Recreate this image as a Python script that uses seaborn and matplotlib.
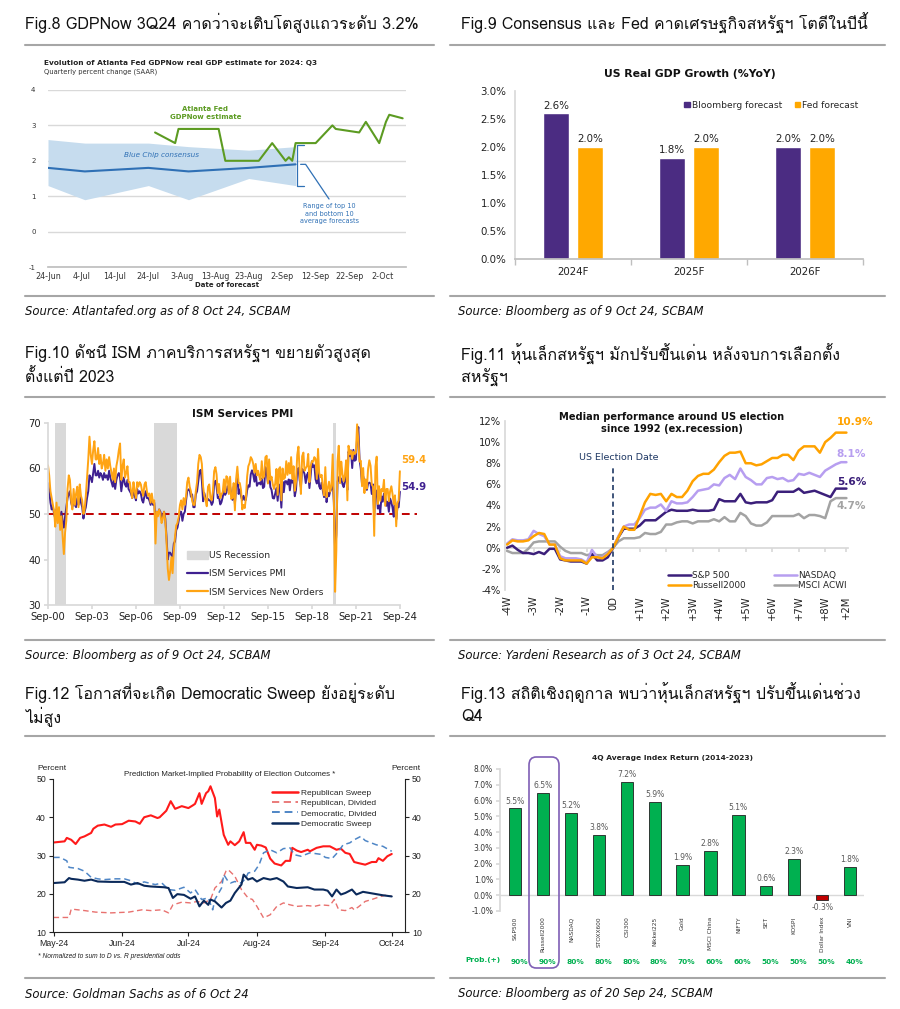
import numpy as np
import pandas as pd
import matplotlib
matplotlib.use('Agg')
import matplotlib.pyplot as plt
import matplotlib.dates as mdates
import matplotlib.patches as mpatches
from matplotlib.lines import Line2D
from matplotlib.ticker import FuncFormatter, MultipleLocator
from matplotlib.transforms import blended_transform_factory
from matplotlib import font_manager
import seaborn as sns

# ── Fig.8 GDPNow data ─────────────────────────────────────────────
bc_dates = ['2024-06-24', '2024-07-05', '2024-07-24', '2024-08-05', '2024-08-23', '2024-09-06']
bc_mid = [1.8, 1.7, 1.8, 1.7, 1.8, 1.9]
bc_high = [2.6, 2.5, 2.5, 2.4, 2.3, 2.4]
bc_low = [1.3, 0.9, 1.3, 0.9, 1.5, 1.3]
gdp_dates = ['07-26', '08-01', '08-02', '08-14', '08-16', '08-26', '08-30', '09-03', '09-04',
             '09-05', '09-06', '09-12', '09-17', '09-18', '09-25', '09-27', '10-01', '10-03',
             '10-04', '10-08']
gdp_vals = [2.8, 2.5, 2.9, 2.9, 2.0, 2.0, 2.5, 2.0, 2.1, 2.0, 2.5, 2.5, 3.0, 2.9, 2.8, 3.1,
            2.5, 3.1, 3.3, 3.2]

# ── Fig.9 GDP forecasts ───────────────────────────────────────────
gdp_years = ['2024F', '2025F', '2026F']
bloomberg_fc = [2.6, 1.8, 2.0]
fed_fc = [2.0, 2.0, 2.0]

# ── Fig.10 ISM services (monthly, Sep-2000 .. Sep-2024) ───────────
ism_pmi = [
    56.8, 55.2, 52.5, 51.0,
    51.5, 50.0, 49.0, 51.0, 49.2, 50.5, 49.0, 50.5, 48.2, 47.0, 49.5, 51.5,
    53.5, 54.5, 55.0, 52.5, 51.5, 53.0, 52.0, 51.5, 53.5, 52.0, 54.0, 52.5,
    51.5, 49.0, 50.5, 51.5, 53.5, 55.0, 58.5, 58.0, 57.0, 59.0, 61.0, 58.5,
    58.5, 59.5, 58.0, 59.0, 58.5, 57.5, 59.0, 58.0, 58.5, 57.5, 59.5, 58.0,
    57.0, 56.0, 57.5, 55.5, 57.5, 58.5, 59.0, 58.0, 55.0, 57.0, 58.0, 56.5,
    56.0, 57.5, 55.5, 55.0, 54.5, 53.5, 55.5, 54.0, 53.0, 55.5, 54.5, 55.0,
    54.5, 53.0, 52.5, 54.0, 55.0, 53.5, 53.5, 53.0, 52.0, 53.5, 52.0, 52.5,
    48.0, 50.5, 50.0, 51.0, 50.5, 49.0, 49.5, 50.5, 49.0, 45.0, 40.0, 41.5,
    41.5, 41.0, 40.5, 43.5, 44.0, 46.5, 47.0, 48.5, 50.5, 50.5, 48.5, 50.0,
    50.5, 53.0, 55.0, 55.4, 55.4, 53.8, 54.3, 51.5, 51.5, 54.3, 55.0, 57.1,
    59.4, 59.7, 57.3, 52.8, 54.6, 53.3, 52.7, 53.3, 53.0, 52.9, 52.0, 52.6,
    56.8, 57.3, 56.0, 53.5, 53.7, 52.1, 52.6, 53.7, 55.1, 54.2, 54.7, 56.1,
    55.2, 56.0, 54.4, 53.1, 56.0, 52.2, 56.0, 58.6, 54.4, 55.4, 53.9, 53.0,
    54.0, 53.1, 53.1, 55.2, 56.3, 56.0, 58.7, 59.6, 58.6, 57.1, 59.3, 56.2,
    56.7, 56.9, 56.5, 57.8, 55.7, 56.0, 60.3, 59.0, 56.9, 59.1, 55.9, 55.3,
    53.5, 53.4, 54.5, 55.7, 52.9, 56.5, 55.5, 51.4, 57.1, 54.8, 57.2, 57.2,
    56.5, 57.6, 55.2, 57.5, 56.9, 57.4, 53.9, 55.3, 59.8, 60.1, 57.4, 55.9,
    59.9, 59.5, 58.8, 56.8, 58.6, 59.1, 55.7, 58.5, 61.6, 60.3, 60.7, 57.6,
    56.7, 59.7, 56.1, 55.5, 56.9, 55.1, 53.7, 56.4, 52.6, 54.7, 53.9, 55.0,
    55.5, 57.3, 52.5, 41.8, 45.4, 57.1, 58.1, 56.9, 57.8, 56.6, 55.9, 57.2,
    58.7, 55.3, 63.7, 62.7, 64.0, 60.1, 64.1, 61.7, 61.9, 66.7, 69.1, 62.0,
    59.9, 56.5, 58.3, 57.1, 55.9, 55.3, 56.7, 56.9, 56.7, 54.4, 56.5, 49.6,
    55.2, 55.1, 51.2, 51.9, 50.3, 53.9, 52.7, 54.5, 53.6, 51.8, 52.7, 50.5,
    53.4, 52.6, 51.4, 49.4, 53.8, 48.8, 51.4, 51.5, 54.9,
]
ism_new_orders = [
    60.7, 58.5, 55.0, 53.5,
    52.0, 50.5, 47.2, 52.5, 48.0, 51.5, 46.5, 49.5, 45.0, 41.2, 46.0, 48.5,
    55.5, 58.5, 57.5, 53.0, 51.0, 55.5, 52.0, 54.5, 56.0, 51.5, 56.5, 54.0,
    53.0, 50.0, 51.0, 54.0, 58.0, 62.0, 67.0, 63.0, 61.0, 64.0, 66.0, 62.0,
    62.0, 64.5, 61.0, 63.0, 60.0, 61.0, 63.0, 59.5, 62.0, 60.0, 62.5, 60.5,
    59.0, 57.5, 60.0, 57.0, 60.5, 62.0, 64.0, 65.5, 57.5, 60.5, 62.0, 58.0,
    59.0, 60.5, 57.0, 57.0, 55.0, 53.5, 57.0, 55.0, 53.5, 57.0, 56.0, 57.0,
    56.5, 55.0, 54.0, 56.5, 57.0, 55.0, 54.0, 54.5, 52.5, 54.5, 52.5, 53.0,
    43.5, 50.5, 49.5, 51.0, 50.0, 48.0, 49.0, 50.5, 48.5, 44.0, 38.0, 35.5,
    37.5, 40.5, 37.0, 42.0, 45.0, 47.5, 48.0, 49.5, 52.0, 53.0, 51.0, 53.5,
    52.0, 54.0, 57.0, 58.0, 56.0, 55.0, 53.0, 52.0, 52.0, 55.0, 57.0, 61.0,
    63.0, 62.5, 61.0, 56.0, 54.0, 53.0, 51.7, 56.0, 56.5, 53.5, 53.0, 55.0,
    59.4, 60.3, 58.7, 54.6, 56.6, 53.5, 54.3, 54.8, 57.6, 54.8, 58.3, 57.9,
    54.4, 58.2, 53.3, 53.6, 56.8, 50.8, 57.7, 60.4, 56.8, 56.8, 55.2, 51.0,
    52.0, 51.3, 53.4, 58.2, 60.5, 61.2, 62.5, 62.0, 61.0, 59.1, 61.0, 58.5,
    59.5, 58.2, 57.4, 61.6, 57.9, 58.3, 62.5, 62.8, 56.7, 62.0, 57.5, 58.2,
    56.5, 55.5, 56.7, 59.9, 54.2, 59.9, 60.3, 53.0, 60.0, 57.7, 58.0, 61.6,
    58.6, 61.2, 58.9, 62.5, 57.7, 60.5, 55.1, 57.1, 63.0, 64.8, 58.9, 54.4,
    62.7, 63.5, 59.5, 60.1, 60.5, 63.2, 57.0, 60.5, 61.6, 61.5, 62.5, 62.1,
    57.7, 64.3, 59.0, 58.1, 58.6, 55.8, 54.1, 60.3, 53.7, 55.6, 57.1, 54.9,
    56.2, 63.1, 52.9, 32.9, 41.9, 61.6, 65.0, 56.8, 61.5, 58.8, 57.2, 58.6,
    61.8, 53.0, 65.0, 63.2, 63.9, 62.1, 63.7, 63.2, 63.5, 69.7, 66.0, 61.5,
    61.7, 56.1, 60.1, 54.6, 57.6, 55.6, 59.9, 61.8, 60.6, 56.5, 56.0, 45.2,
    60.4, 62.6, 52.2, 56.1, 52.9, 55.5, 55.0, 57.5, 51.8, 55.5, 55.5, 52.8,
    55.0, 56.1, 54.4, 52.2, 54.1, 47.3, 52.4, 53.0, 59.4,
]
recessions = [('2001-03-01', '2001-11-30'), ('2007-12-01', '2009-06-30'), ('2020-02-01', '2020-04-30')]

# ── Fig.11 median performance around US election (trading days) ──
election_days = list(range(-20, 45))
sp500 = [0.0, 0.2, -0.2, -0.5, -0.5, -0.6, -0.4, -0.6, -0.1, -0.1, -1.1, -1.2, -1.3, -1.3,
         -1.3, -1.5, -0.6, -1.2, -1.2, -0.9, 0.0,
         1.0, 1.8, 1.8, 1.8, 2.1, 2.6, 2.6, 2.6, 3.0, 3.4, 3.6, 3.5, 3.5, 3.5, 3.6, 3.5,
         3.5, 3.5, 3.6, 4.6, 4.4, 4.4, 4.4, 5.1, 4.3, 4.2, 4.3, 4.3, 4.3, 4.5, 5.3, 5.3,
         5.3, 5.3, 5.6, 5.2, 5.3, 5.4, 5.2, 5.0, 4.8, 5.6, 5.6, 5.6]
nasdaq = [0.4, 0.8, 0.7, 0.7, 0.8, 1.6, 1.3, 1.1, 0.3, 0.3, -0.8, -1.0, -1.0, -1.0, -1.1,
          -1.4, -0.2, -0.9, -0.9, -0.5, 0.0,
          1.1, 2.0, 2.2, 2.2, 2.8, 3.6, 3.8, 3.8, 4.1, 3.5, 4.4, 4.2, 4.2, 4.3, 4.8, 5.4,
          5.5, 5.6, 6.0, 5.9, 6.6, 6.9, 6.5, 7.5, 6.7, 6.4, 6.0, 6.0, 6.6, 6.7, 6.5, 6.6,
          6.3, 6.4, 7.0, 6.9, 7.1, 6.9, 6.7, 7.3, 7.6, 7.9, 8.1, 8.1]
russell2000 = [0.3, 0.7, 0.6, 0.6, 0.7, 1.1, 1.4, 1.3, 0.3, 0.3, -1.0, -1.2, -1.2, -1.2,
               -1.2, -1.5, -0.9, -0.9, -1.0, -0.6, 0.0,
               1.0, 2.0, 1.7, 1.7, 3.0, 4.3, 5.1, 5.0, 5.1, 4.4, 5.1, 4.8, 4.8, 5.4, 6.3,
               6.8, 7.0, 7.0, 7.4, 8.1, 8.7, 9.0, 9.0, 9.1, 8.0, 8.0, 7.8, 7.9, 8.2, 8.5,
               8.5, 8.8, 8.8, 8.3, 9.2, 9.6, 9.6, 9.6, 9.0, 10.0, 10.4, 10.9, 10.9, 10.9]
msci_acwi = [-0.3, -0.5, -0.5, -0.5, -0.1, 0.5, 0.6, 0.6, 0.6, 0.6, 0.1, -0.3, -0.5, -0.5,
             -0.5, -0.7, -0.6, -0.7, -0.7, -0.4, 0.0,
             0.6, 0.9, 0.9, 0.9, 1.0, 1.4, 1.3, 1.3, 1.5, 2.2, 2.2, 2.4, 2.5, 2.5, 2.3, 2.5,
             2.5, 2.5, 2.7, 2.5, 2.9, 2.5, 2.5, 3.3, 3.0, 2.3, 2.1, 2.1, 2.4, 3.0, 3.0, 3.0,
             3.0, 3.0, 3.2, 2.8, 3.1, 3.1, 3.0, 2.8, 4.4, 4.7, 4.7, 4.7]
week_ticks = [-20, -15, -10, -5, 0, 5, 10, 15, 20, 25, 30, 35, 40, 44]
week_labels = ['-4W', '-3W', '-2W', '-1W', '0D', '+1W', '+2W', '+3W', '+4W', '+5W', '+6W',
               '+7W', '+8W', '+2M']

# ── Fig.12 prediction market probabilities (2024) ─────────────────
rep_sweep_dates = ['05-01', '05-06', '05-07', '05-09', '05-11', '05-13', '05-15', '05-18',
                   '05-19', '05-21', '05-24', '05-27', '05-29', '06-01', '06-04', '06-07',
                   '06-09', '06-11', '06-14', '06-17', '06-18', '06-21', '06-23', '06-25',
                   '06-28', '07-01', '07-03', '07-04', '07-06', '07-07', '07-09', '07-10',
                   '07-11', '07-13', '07-14', '07-15', '07-17', '07-19', '07-20', '07-22',
                   '07-24', '07-26', '07-27', '07-29', '07-31', '08-01', '08-03', '08-05',
                   '08-07', '08-09', '08-12', '08-14', '08-16', '08-17', '08-19', '08-21',
                   '08-24', '08-25', '08-28', '08-31', '09-03', '09-06', '09-08', '09-10',
                   '09-12', '09-14', '09-16', '09-19', '09-22', '09-24', '09-25', '09-27',
                   '09-29', '10-01']
rep_sweep = [33.4, 33.7, 34.6, 34.1, 33.0, 34.6, 35.0, 35.9, 37.0, 37.8, 38.1, 37.5, 38.1,
             38.2, 39.1, 38.9, 38.3, 40.0, 40.5, 39.8, 40.0, 41.7, 44.2, 42.2, 42.9, 42.4,
             43.1, 43.5, 46.3, 43.5, 46.3, 46.8, 48.1, 45.0, 40.2, 42.0, 35.4, 32.8, 33.7,
             32.7, 33.7, 36.1, 33.3, 33.3, 31.5, 32.8, 32.6, 32.1, 29.2, 27.9, 27.4, 28.6,
             28.6, 32.0, 31.3, 30.9, 31.5, 31.1, 32.0, 32.4, 32.4, 31.5, 31.8, 30.7, 30.4,
             28.3, 28.0, 27.6, 28.3, 28.3, 29.3, 28.6, 29.8, 30.4]
rep_div_dates = ['05-01', '05-08', '05-09', '05-12', '05-15', '05-20', '05-27', '06-04',
                 '06-10', '06-14', '06-19', '06-22', '06-24', '06-28', '07-02', '07-05',
                 '07-08', '07-11', '07-13', '07-16', '07-18', '07-19', '07-22', '07-25',
                 '07-28', '07-30', '08-01', '08-04', '08-07', '08-10', '08-13', '08-16',
                 '08-19', '08-24', '08-27', '08-30', '09-03', '09-05', '09-07', '09-10',
                 '09-13', '09-14', '09-16', '09-19', '09-22', '09-25', '09-28', '10-01']
rep_div = [13.8, 13.8, 16.0, 15.8, 15.6, 15.2, 15.0, 15.2, 15.8, 15.6, 15.8, 15.0, 17.1,
           17.8, 17.6, 18.0, 17.6, 18.5, 21.5, 23.2, 25.9, 26.3, 24.6, 21.1, 18.9, 18.5,
           16.7, 13.7, 14.5, 16.7, 17.6, 17.1, 16.7, 16.9, 16.7, 17.1, 16.9, 18.5, 15.8,
           15.6, 16.4, 15.8, 16.6, 18.0, 18.5, 19.1, 19.6, 19.3]
dem_div_dates = ['05-01', '05-04', '05-07', '05-08', '05-12', '05-15', '05-18', '05-21',
                 '05-24', '05-29', '06-02', '06-05', '06-08', '06-11', '06-16', '06-19',
                 '06-22', '06-25', '06-29', '07-02', '07-04', '07-07', '07-10', '07-12',
                 '07-13', '07-16', '07-17', '07-19', '07-20', '07-22', '07-25', '07-27',
                 '07-28', '07-31', '08-02', '08-04', '08-07', '08-10', '08-13', '08-16',
                 '08-18', '08-21', '08-25', '08-30', '09-01', '09-04', '09-07', '09-09',
                 '09-12', '09-14', '09-17', '09-19', '09-24', '09-27', '10-01']
dem_div = [29.5, 29.5, 28.6, 26.9, 26.6, 25.9, 24.3, 23.9, 23.7, 23.9, 23.9, 23.4, 22.5,
           23.1, 22.4, 22.8, 21.1, 20.9, 21.7, 20.2, 21.1, 18.5, 18.9, 15.8, 18.5, 21.5,
           25.0, 23.2, 22.8, 23.2, 22.8, 24.1, 25.4, 25.9, 27.6, 30.7, 31.5, 30.7, 31.8,
           32.0, 30.2, 29.8, 30.7, 30.3, 29.5, 29.2, 31.1, 32.8, 33.3, 34.1, 35.0, 33.9,
           32.8, 32.4, 31.1]
dem_sweep_dates = ['05-01', '05-06', '05-08', '05-09', '05-12', '05-15', '05-18', '05-21',
                   '05-27', '06-02', '06-05', '06-08', '06-11', '06-14', '06-20', '06-22',
                   '06-24', '06-26', '06-29', '07-02', '07-04', '07-06', '07-08', '07-10',
                   '07-11', '07-13', '07-16', '07-18', '07-20', '07-22', '07-25', '07-26',
                   '07-28', '07-30', '08-01', '08-04', '08-07', '08-10', '08-13', '08-15',
                   '08-19', '08-24', '08-27', '08-31', '09-02', '09-04', '09-06', '09-08',
                   '09-10', '09-13', '09-15', '09-18', '09-21', '09-24', '09-27', '10-01']
dem_sweep = [22.8, 23.0, 24.1, 23.9, 23.7, 23.4, 23.7, 23.2, 23.1, 23.1, 22.4, 22.8, 22.1,
             21.9, 21.7, 21.5, 18.9, 19.9, 19.7, 18.7, 19.3, 16.7, 18.2, 17.1, 18.5, 18.0,
             16.4, 17.6, 18.2, 20.2, 22.4, 25.0, 23.7, 24.1, 23.2, 24.1, 23.7, 24.1, 23.2,
             21.9, 21.5, 21.7, 21.1, 21.1, 20.8, 19.3, 21.1, 19.8, 20.2, 21.1, 19.8, 20.5,
             20.2, 19.9, 19.6, 19.3]

# ── Fig.13 Q4 average index returns 2014-2023 ─────────────────────
idx_names = ['S&P500', 'Russell2000', 'NASDAQ', 'STOXX600', 'CSI300', 'Nikkei225', 'Gold',
             'MSCI China', 'NIFTY', 'SET', 'KOSPI', 'Dollar Index', 'VNI']
idx_returns = [5.5, 6.5, 5.2, 3.8, 7.2, 5.9, 1.9, 2.8, 5.1, 0.6, 2.3, -0.3, 1.8]
idx_prob = [90, 90, 80, 80, 80, 80, 70, 60, 60, 50, 50, 50, 40]


# ── Fonts ─────────────────────────────────────────────────────────
def find_thai_family():
    try:
        from fontTools.ttLib import TTFont
    except ImportError:
        return None
    for f in font_manager.fontManager.ttflist:
        try:
            tt = TTFont(f.fname, fontNumber=0, lazy=True)
            cmap = tt.getBestCmap() or {}
            if 0x0E01 in cmap and 0x0E32 in cmap:
                return f.name
        except Exception:
            continue
    return None


sns.set_theme(style='white')
plt.rcParams['font.family'] = ['DejaVu Sans']
plt.rcParams['axes.unicode_minus'] = False
thai = find_thai_family()
TITLE_FAMILY = [thai, 'DejaVu Sans'] if thai else ['DejaVu Sans']
print('[INFO] Thai font:', thai)

W, H = 900, 1009
fig = plt.figure(figsize=(9, 10.09), dpi=100)
fig.patch.set_facecolor('white')


def fx(x):
    return x / W


def fy(y):
    return 1 - y / H


def add_ax(x0, y0, x1, y1):
    return fig.add_axes([fx(x0), fy(y1), (x1 - x0) / W, (y1 - y0) / H])


def hline(x0, x1, y):
    fig.add_artist(Line2D([fx(x0), fx(x1)], [fy(y), fy(y)], color='#a6a6a6', lw=1.5))


def title(x, y, s):
    fig.text(fx(x), fy(y), s, fontsize=11.5, family=TITLE_FAMILY, va='center', ha='left',
             color='#111111')


def source(x, y, s):
    fig.text(fx(x), fy(y), s, fontsize=8.4, style='italic', va='center', ha='left',
             color='#111111')


# ── Panel frames ──────────────────────────────────────────────────
for x0, x1 in [(25, 434), (450, 885)]:
    for y in (44.5, 296, 397, 639.5, 736, 978):
        hline(x0, x1, y)

title(25, 23, 'Fig.8 GDPNow 3Q24 คาดว่าจะเติบโตสูงแถวระดับ 3.2%')
title(461, 23, 'Fig.9 Consensus และ Fed คาดเศรษฐกิจสหรัฐฯ โตดีในปีนี้')
title(25, 354, 'Fig.10 ดัชนี ISM ภาคบริการสหรัฐฯ ขยายตัวสูงสุด')
title(25, 378, 'ตั้งแต่ปี 2023')
title(461, 354, 'Fig.11 หุ้นเล็กสหรัฐฯ มักปรับขึ้นเด่น หลังจบการเลือกตั้ง')
title(461, 378, 'สหรัฐฯ')
title(25, 693, 'Fig.12 โอกาสที่จะเกิด Democratic Sweep ยังอยู่ระดับ')
title(25, 717, 'ไม่สูง')
title(461, 693, 'Fig.13 สถิติเชิงฤดูกาล พบว่าหุ้นเล็กสหรัฐฯ ปรับขึ้นเด่นช่วง')
title(461, 717, 'Q4')

source(25, 312, 'Source: Atlantafed.org as of 8 Oct 24, SCBAM')
source(458, 312, 'Source: Bloomberg as of 9 Oct 24, SCBAM')
source(25, 655, 'Source: Bloomberg as of 9 Oct 24, SCBAM')
source(458, 655, 'Source: Yardeni Research as of 3 Oct 24, SCBAM')
source(25, 994, 'Source: Goldman Sachs as of 6 Oct 24')
source(458, 994, 'Source: Bloomberg as of 20 Sep 24, SCBAM')

# ── Fig.8 GDPNow ──────────────────────────────────────────────────
GREEN8, BLUE8 = '#5c9b22', '#2f70b5'
ax = add_ax(48, 90, 406, 267)
bc = pd.DataFrame({'date': pd.to_datetime(bc_dates), 'mid': bc_mid, 'lo': bc_low, 'hi': bc_high})
gdp = pd.DataFrame({'date': pd.to_datetime(['2024-' + d for d in gdp_dates]), 'est': gdp_vals})
ax.fill_between(bc['date'], bc['lo'], bc['hi'], color='#c6dcee', lw=0)
sns.lineplot(data=bc, x='date', y='mid', ax=ax, color=BLUE8, lw=1.5)
sns.lineplot(data=gdp, x='date', y='est', ax=ax, color=GREEN8, lw=1.5)
start8 = pd.Timestamp('2024-06-24')
ax.set_xlim(start8, start8 + pd.Timedelta(days=107))
ax.set_ylim(-1, 4)
ax.set_xticks(pd.date_range(start8, periods=11, freq='10D'))
ax.xaxis.set_major_formatter(mdates.DateFormatter('%-d-%b'))
ax.set_yticks(range(-1, 5))
ax.yaxis.grid(True, color='#d9d9d9', lw=1)
for s in ['top', 'right', 'left']:
    ax.spines[s].set_visible(False)
ax.spines['bottom'].set_color('#bfbfbf')
ax.tick_params(axis='x', labelsize=5.8, colors='#333333', direction='inout', length=3,
               color='#bfbfbf', pad=2)
ax.tick_params(axis='y', labelsize=5, colors='#333333', length=0, pad=9)
ax.set_xlabel('Date of forecast', fontsize=5, fontweight='bold', labelpad=1, color='#222222')
ax.set_ylabel('')
# range bracket and callout
bx = pd.Timestamp('2024-09-06 12:00')
ax.plot([bx + pd.Timedelta(days=2), bx, bx, bx + pd.Timedelta(days=2)],
        [2.45, 2.45, 1.3, 1.3], color=BLUE8, lw=0.9)
ax.plot([pd.Timestamp('2024-09-07 12:00'), pd.Timestamp('2024-09-09'), pd.Timestamp('2024-09-16')],
        [1.9, 1.9, 0.92], color=BLUE8, lw=0.9)
ax.text(pd.Timestamp('2024-08-10'), 3.35, 'Atlanta Fed\nGDPNow estimate', color=GREEN8,
        fontsize=5, fontweight='bold', ha='center', va='center', linespacing=1.3)
ax.text(pd.Timestamp('2024-07-28'), 2.17, 'Blue Chip consensus', color=BLUE8, fontsize=5.2,
        style='italic', ha='center', va='center')
ax.text(pd.Timestamp('2024-09-16'), 0.5, 'Range of top 10\nand bottom 10\naverage forecasts',
        color=BLUE8, fontsize=4.7, ha='center', va='center', linespacing=1.3)
fig.text(fx(44), fy(63), 'Evolution of Atlanta Fed GDPNow real GDP estimate for 2024: Q3',
         fontsize=5.3, fontweight='bold', va='center', color='#222222')
fig.text(fx(44), fy(72), 'Quarterly percent change (SAAR)', fontsize=4.9, va='center',
         color='#333333')

# ── Fig.9 US real GDP growth ─────────────────────────────────────
PURPLE9, ORANGE9 = '#4b2c82', '#ffa800'
ax = add_ax(515, 91, 863, 259)
df9 = pd.DataFrame({'year': gdp_years * 2,
                    'series': ['Bloomberg forecast'] * 3 + ['Fed forecast'] * 3,
                    'value': bloomberg_fc + fed_fc})
sns.barplot(data=df9, x='year', y='value', hue='series', ax=ax, width=0.58, gap=0.24,
            palette={'Bloomberg forecast': PURPLE9, 'Fed forecast': ORANGE9}, saturation=1)
for c in ax.containers:
    ax.bar_label(c, fmt='%.1f%%', padding=2, fontsize=7.4, color='#222222')
ax.set_ylim(0, 3.0)
ax.set_xlim(-0.5, 2.5)
ax.yaxis.set_major_locator(MultipleLocator(0.5))
ax.yaxis.set_major_formatter(FuncFormatter(lambda v, _: f'{v:.1f}%'))
ax.set_xticks([-0.5, 0.5, 1.5, 2.5], minor=True)
ax.tick_params(axis='x', which='major', length=0, labelsize=7.4, colors='#222222', pad=6)
ax.tick_params(axis='x', which='minor', length=4, color='#bfbfbf', direction='out', bottom=True)
ax.tick_params(axis='y', length=0, labelsize=7.4, colors='#222222', pad=6)
ax.set_xlabel('')
ax.set_ylabel('')
for s in ['top', 'right']:
    ax.spines[s].set_visible(False)
ax.spines['left'].set_color('#d9d9d9')
ax.spines['bottom'].set_color('#bfbfbf')
handles9 = [mpatches.Patch(color=PURPLE9, label='Bloomberg forecast'),
            mpatches.Patch(color=ORANGE9, label='Fed forecast')]
ax.legend(handles=handles9, loc='center right', bbox_to_anchor=(1.01, 0.915), ncol=2,
          frameon=False, fontsize=6.6, handlelength=0.6, handleheight=0.6,
          handletextpad=0.2, columnspacing=1.4)
fig.text(fx(690), fy(74), 'US Real GDP Growth (%YoY)', fontsize=7.8, fontweight='bold',
         ha='center', va='center', color='#111111')

# ── Fig.10 ISM Services PMI ──────────────────────────────────────
PURPLE10, ORANGE10 = '#3f2090', '#ffa414'
ax = add_ax(48, 423, 417, 605)
ism_dates = pd.date_range('2000-09-01', periods=len(ism_pmi), freq='MS')
for a, b in recessions:
    ax.axvspan(pd.Timestamp(a), pd.Timestamp(b), color='#d9d9d9', lw=0)
ax.axhline(50, color='#c00000', lw=1.4, ls=(0, (4, 2.5)), zorder=1)
sns.lineplot(x=ism_dates, y=ism_pmi, ax=ax, color=PURPLE10, lw=1.4)
sns.lineplot(x=ism_dates, y=ism_new_orders, ax=ax, color=ORANGE10, lw=1.4)
ax.set_xlim(pd.Timestamp('2000-09-01'), pd.Timestamp('2025-11-01'))
ax.set_ylim(30, 70)
ax.set_yticks([30, 40, 50, 60, 70])
ax.set_xticks(pd.date_range('2000-09-01', '2024-09-01', freq='36MS'))
ax.xaxis.set_major_formatter(mdates.DateFormatter('%b-%y'))
ax.set_xlabel('')
ax.set_ylabel('')
for s in ['top', 'right']:
    ax.spines[s].set_visible(False)
ax.spines['bottom'].set_bounds(mdates.date2num(pd.Timestamp('2000-09-01')),
                               mdates.date2num(pd.Timestamp('2024-09-01')))
ax.spines['left'].set_color('#d9d9d9')
ax.spines['bottom'].set_color('#d9d9d9')
ax.tick_params(axis='both', labelsize=7.2, colors='#222222', length=3, color='#d9d9d9',
               direction='out', bottom=True, left=True, pad=2)
ax.text(pd.Timestamp('2024-10-15'), 61.8, f'{ism_new_orders[-1]:.1f}', color=ORANGE10,
        fontsize=7.3, fontweight='bold', ha='left', va='center', clip_on=False)
ax.text(pd.Timestamp('2024-10-15'), 55.9, f'{ism_pmi[-1]:.1f}', color=PURPLE10,
        fontsize=7.3, fontweight='bold', ha='left', va='center', clip_on=False)
handles10 = [mpatches.Patch(color='#d9d9d9', label='US Recession'),
             Line2D([], [], color=PURPLE10, lw=1.6, label='ISM Services PMI'),
             Line2D([], [], color=ORANGE10, lw=1.6, label='ISM Services New Orders')]
ax.legend(handles=handles10, loc='lower left', bbox_to_anchor=(0.355, 0.0), frameon=False,
          fontsize=6.6, handlelength=2.3, handletextpad=0.1, labelspacing=1.0,
          handleheight=1.0)
fig.text(fx(243), fy(414), 'ISM Services PMI', fontsize=7.6, fontweight='bold',
         ha='center', va='center', color='#111111')

# ── Fig.11 performance around US election ────────────────────────
C11 = {'S&P 500': '#3b1f7a', 'NASDAQ': '#b79ef0', 'Russell2000': '#ffa200',
       'MSCI ACWI': '#a3a3a3'}
ax = add_ax(505, 421, 848, 590)
series11 = {'S&P 500': sp500, 'NASDAQ': nasdaq, 'Russell2000': russell2000,
            'MSCI ACWI': msci_acwi}
for name in ['MSCI ACWI', 'S&P 500', 'NASDAQ', 'Russell2000']:
    sns.lineplot(x=election_days, y=series11[name], ax=ax, color=C11[name], lw=1.8)
ax.set_xlim(-20.4, 44.3)
ax.set_ylim(-4, 12)
ax.yaxis.set_major_locator(MultipleLocator(2))
ax.yaxis.set_major_formatter(FuncFormatter(lambda v, _: f'{v:.0f}%'))
ax.set_xticks(week_ticks)
ax.set_xticklabels(week_labels, rotation=90)
ax.tick_params(axis='x', length=0, labelsize=7.2, colors='#222222', pad=4)
ax.tick_params(axis='y', length=0, labelsize=7.2, colors='#222222', pad=3)
for s in ['top', 'right', 'bottom']:
    ax.spines[s].set_visible(False)
ax.spines['left'].set_color('#d9d9d9')
sec = ax.secondary_xaxis(0.25)
sec.set_xticks(week_ticks)
sec.tick_params(axis='x', labelbottom=False, length=3, color='#d9d9d9', direction='out')
sec.spines['bottom'].set_color('#d9d9d9')
ax.vlines(0, -4, 7.8, colors='#1f3864', linestyles=(0, (3, 2)), lw=1.2)
ax.text(1.0, 8.5, 'US Election Date', color='#1f3864', fontsize=6.8, ha='center', va='center')
end_label_y = {'Russell2000': 11.9, 'NASDAQ': 8.85, 'S&P 500': 6.2, 'MSCI ACWI': 3.94}
for name, yv in end_label_y.items():
    ax.text(42.2, yv, f'{series11[name][-1]:.1f}%', color=C11[name], fontsize=7.6,
            fontweight='bold', ha='left', va='center', clip_on=False)
handles11 = [Line2D([], [], color=C11[n], lw=1.8, label=n)
             for n in ['S&P 500', 'Russell2000', 'NASDAQ', 'MSCI ACWI']]
ax.legend(handles=handles11, loc='lower right', bbox_to_anchor=(1.02, -0.05), ncol=2,
          frameon=False, fontsize=6.4, handlelength=2.6, handletextpad=0.1,
          labelspacing=0.15, columnspacing=3.2)
fig.text(fx(672), fy(423), 'Median performance around US election\nsince 1992 (ex.recession)',
         fontsize=7.1, fontweight='bold', ha='center', va='center', linespacing=1.15,
         color='#111111')

# ── Fig.12 prediction market probabilities ───────────────────────
ARIAL = ['Liberation Sans', 'DejaVu Sans']
ax = add_ax(53, 779, 405, 932)
lines12 = [('Republican Sweep', rep_sweep_dates, rep_sweep, '#ff1a1a', '-', 1.5),
           ('Republican, Divided', rep_div_dates, rep_div, '#e8716f', (0, (4, 2.5)), 1.0),
           ('Democratic, Divided', dem_div_dates, dem_div, '#4f86c6', (0, (4, 2.5)), 1.1),
           ('Democratic Sweep', dem_sweep_dates, dem_sweep, '#0b2a5b', '-', 1.5)]
handles12 = []
for name, dts, vals, col, ls, lw in lines12:
    d = pd.to_datetime(['2024-' + x for x in dts])
    sns.lineplot(x=d, y=vals, ax=ax, color=col, lw=lw, linestyle=ls)
    handles12.append(Line2D([], [], color=col, lw=lw + 0.3, ls=ls, label=name))
ax.set_xlim(pd.Timestamp('2024-04-30 18:00'), pd.Timestamp('2024-10-07'))
ax.set_ylim(10, 50)
ax.set_yticks([10, 20, 30, 40, 50])
ax.set_xticks(pd.date_range('2024-05-01', '2024-10-01', freq='MS'))
ax.xaxis.set_major_formatter(mdates.DateFormatter('%b-%y'))
ax.set_xlabel('')
ax.set_ylabel('')
ax.spines['top'].set_visible(False)
for s in ['left', 'right', 'bottom']:
    ax.spines[s].set_color('#222222')
    ax.spines[s].set_linewidth(0.8)
ax.tick_params(axis='both', labelsize=6.3, colors='#222222', length=3, direction='out',
               bottom=True, left=True, right=True, labelright=True, pad=2, width=0.8)
for lab in ax.get_xticklabels() + ax.get_yticklabels():
    lab.set_family(ARIAL)
ax.legend(handles=handles12, loc='upper left', bbox_to_anchor=(0.6, 0.985), frameon=False,
          prop={'family': ARIAL, 'size': 6}, handlelength=3.2, handletextpad=0.3,
          labelspacing=0.3)
fig.text(fx(230), fy(775), 'Prediction Market-Implied Probability of Election Outcomes *',
         fontsize=5.7, family=ARIAL, ha='center', va='center', color='#222222')
fig.text(fx(52), fy(769), 'Percent', fontsize=6, family=ARIAL, ha='center', va='center',
         color='#222222')
fig.text(fx(406), fy(769), 'Percent', fontsize=6, family=ARIAL, ha='center', va='center',
         color='#222222')
fig.text(fx(38), fy(957), '* Normalized to sum to D vs. R presidential odds', fontsize=4.8,
         family=ARIAL, style='italic', ha='left', va='center', color='#222222')

# ── Fig.13 Q4 average index return ───────────────────────────────
ax = add_ax(500, 769, 864, 911)
colors13 = ['#c00000' if v < 0 else '#00b050' for v in idx_returns]
sns.barplot(x=idx_names, y=idx_returns, hue=idx_names, palette=colors13, legend=False,
            width=0.44, edgecolor='#202020', linewidth=0.6, saturation=1, ax=ax)
for c in ax.containers:
    ax.bar_label(c, fmt='%.1f%%', padding=2, fontsize=5.5, color='#595959')
ax.set_xlim(-0.54, 12.5)
ax.set_ylim(-1, 8)
ax.yaxis.set_major_locator(MultipleLocator(1))
ax.yaxis.set_major_formatter(FuncFormatter(lambda v, _: f'{v:.1f}%'))
ax.axhline(0, color='#d9d9d9', lw=1, zorder=0)
for s in ['top', 'right', 'bottom']:
    ax.spines[s].set_visible(False)
ax.spines['left'].set_color('#d9d9d9')
ax.tick_params(axis='y', labelsize=5.5, colors='#333333', length=3, color='#d9d9d9',
               direction='out', left=True, pad=2)
ax.tick_params(axis='x', labelsize=4.2, colors='#333333', length=0, pad=4, rotation=90)
ax.set_xlabel('')
ax.set_ylabel('')
tr13 = blended_transform_factory(ax.transData, fig.transFigure)
for i, p in enumerate(idx_prob):
    ax.text(i + 0.15, fy(962), f'{p}%', transform=tr13, color='#00b050', fontsize=5.3,
            fontweight='bold', ha='center', va='center')
fig.text(fx(483), fy(960), 'Prob.(+)', color='#00b050', fontsize=5.3, fontweight='bold',
         ha='center', va='center')
fig.text(fx(673), fy(758), '4Q Average Index Return (2014-2023)', fontsize=5.4,
         fontweight='bold', ha='center', va='center', color='#222222')
fig.add_artist(mpatches.FancyBboxPatch((fx(529), fy(968)), fx(559) - fx(529), fy(757) - fy(968),
                                       boxstyle='round,pad=0,rounding_size=0.008',
                                       transform=fig.transFigure, fill=False,
                                       edgecolor='#7f5fb5', lw=1.2))

fig.savefig('out.png', dpi=100, facecolor='white')
print('[INFO] saved out.png')
